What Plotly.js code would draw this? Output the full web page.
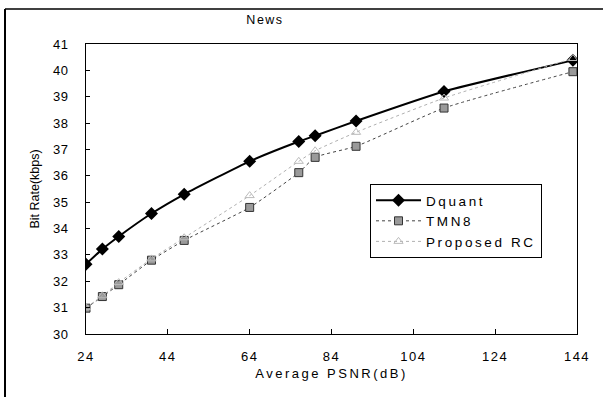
<!DOCTYPE html>
<html>
<head>
<meta charset="utf-8">
<script src="https://cdn.plot.ly/plotly-3.0.1.min.js"></script>
<style>
  html, body { margin: 0; padding: 0; background: #fff; }
  #chart { width: 603px; height: 397px; }
  .xtick text { letter-spacing: 1.5px; }
  .ytick text { letter-spacing: 0.5px; }
  .g-xtitle text { letter-spacing: 2.5px; }
  .legendtext { letter-spacing: 2.6px; }
  .gtitle { letter-spacing: 1.5px; }
</style>
</head>
<body>
<div id="chart"></div>
<script>
// ---- data ----
const psnr = [24, 28, 32, 40, 48, 64, 76, 80, 90, 111.5, 143];
const dquant = [32.65, 33.22, 33.70, 34.57, 35.30, 36.55, 37.30, 37.52, 38.08, 39.20, 40.38];
const tmn8 = [30.98, 31.42, 31.87, 32.80, 33.55, 34.80, 36.12, 36.70, 37.12, 38.57, 39.95];
const proposedRC = [31.00, 31.45, 31.95, 32.85, 33.65, 35.25, 36.55, 36.95, 37.65, 38.95, 40.45];
const xTicks = [24, 44, 64, 84, 104, 124, 144];
const yTicks = [30, 31, 32, 33, 34, 35, 36, 37, 38, 39, 40, 41];
const seriesNames = ['Dquant', 'TMN8', 'Proposed RC'];

// ---- layout geometry ----
const W = 603, H = 397;
const M = { l: 86, r: 26, t: 44, b: 63 };
const pw = W - M.l - M.r, ph = H - M.t - M.b;
const px = v => (v - M.l) / pw;           // pixel x -> paper x
const py = v => (H - M.b - v) / ph;       // pixel y -> paper y

const font = 'Liberation Sans, Arial, sans-serif';

const traces = [
  {
    x: psnr, y: dquant, name: seriesNames[0], type: 'scatter', mode: 'lines+markers',
    line: { color: '#000', width: 2, shape: 'spline', smoothing: 0.5 },
    marker: { symbol: 'diamond', size: 10, color: '#000' }
  },
  {
    x: psnr, y: tmn8, name: seriesNames[1], type: 'scatter', mode: 'lines+markers',
    line: { color: '#444', width: 1, dash: 'dot', shape: 'spline', smoothing: 0.5 },
    marker: { symbol: 'square', size: 8, color: '#9a9a9a', line: { color: '#333', width: 1 } }
  },
  {
    x: psnr, y: proposedRC, name: seriesNames[2], type: 'scatter', mode: 'lines+markers',
    line: { color: '#b0b0b0', width: 1, dash: 'dot', shape: 'spline', smoothing: 0.5 },
    marker: { symbol: 'triangle-up-open', size: 8, color: '#bbb', line: { width: 1 } }
  }
];

const layout = {
  width: W, height: H,
  margin: M,
  paper_bgcolor: '#fff', plot_bgcolor: '#fff',
  font: { family: font, size: 13, color: '#000' },
  showlegend: true,
  title: { text: 'News', x: 265 / W, xref: 'container', xanchor: 'center',
           y: 1 - 20 / H, yref: 'container', yanchor: 'middle',
           font: { family: font, size: 12.5, color: '#000' } },
  xaxis: {
    range: [24, 144], tickvals: xTicks, ticktext: xTicks.map(String),
    showgrid: false, zeroline: false,
    showline: true, linecolor: '#000', linewidth: 1, mirror: true,
    ticks: 'inside', ticklen: 5, tickcolor: '#000',
    ticklabelstandoff: 10,
    tickfont: { family: font, size: 13, color: '#000' },
    title: { text: 'Average PSNR(dB)', standoff: 6, font: { family: font, size: 13, color: '#000' } }
  },
  yaxis: {
    range: [30, 41], tickvals: yTicks, ticktext: yTicks.map(String),
    showgrid: false, zeroline: false,
    showline: true, linecolor: '#000', linewidth: 1, mirror: true,
    ticks: 'inside', ticklen: 4, tickcolor: '#000',
    ticklabelstandoff: 14,
    tickfont: { family: font, size: 13, color: '#000' },
    title: { text: 'Bit Rate(kbps)', standoff: 10, font: { family: font, size: 12.5, color: '#000' } }
  },
  legend: {
    x: px(370), y: py(184), xanchor: 'left', yanchor: 'top',
    bgcolor: '#fff', bordercolor: '#000', borderwidth: 1,
    font: { family: font, size: 13.5, color: '#000' },
    itemwidth: 45,
    tracegroupgap: 0
  },
  shapes: [
    // outer figure frame (left and top edges visible)
    { type: 'line', xref: 'paper', yref: 'paper', x0: px(5), x1: px(5), y0: py(9), y1: py(H + 2),
      line: { color: '#000', width: 2 } },
    { type: 'line', xref: 'paper', yref: 'paper', x0: px(5), x1: px(W + 2), y0: py(9), y1: py(9),
      line: { color: '#000', width: 1.5 } }
  ]
};

Plotly.newPlot('chart', traces, layout, { staticPlot: true, displayModeBar: false });
</script>
</body>
</html>
